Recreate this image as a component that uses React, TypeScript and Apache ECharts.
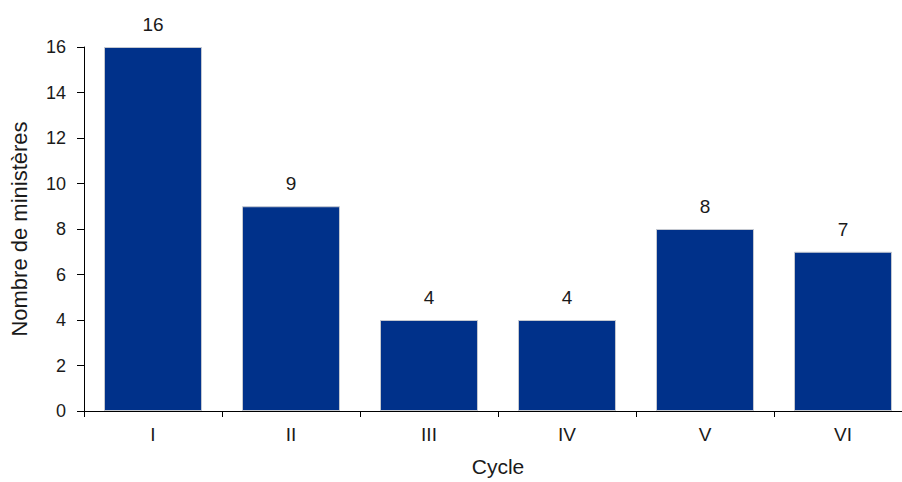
import React, { useEffect, useRef } from "react";
import * as echarts from "echarts";

// Number of ministries per cycle
const cycles = ["I", "II", "III", "IV", "V", "VI"];
const ministries = [16, 9, 4, 4, 8, 7];
const yTicks = { min: 0, max: 16, interval: 2 };

const FONT = '"Liberation Sans", Arial, Helvetica, sans-serif';
const TEXT = "#1a1a1a";

export default function App() {
  const ref = useRef<HTMLDivElement>(null);

  useEffect(() => {
    if (!ref.current) return;
    const chart = echarts.init(ref.current, undefined, { renderer: "svg" });
    chart.setOption({
      animation: false,
      backgroundColor: "#ffffff",
      textStyle: { fontFamily: FONT, color: TEXT },
      // the plot runs slightly past the right edge of the visible frame
      grid: { left: 84, right: 0, top: 47, bottom: 70, containLabel: false },
      xAxis: {
        type: "category",
        data: cycles,
        name: "Cycle",
        nameLocation: "middle",
        nameGap: 45,
        nameTextStyle: { fontFamily: FONT, fontSize: 21, color: TEXT },
        axisLine: { lineStyle: { color: "#000", width: 1 } },
        axisTick: { show: true, length: 6, alignWithLabel: false, lineStyle: { color: "#000" } },
        axisLabel: { fontFamily: FONT, fontSize: 19, color: TEXT, margin: 14 },
        splitLine: { show: false },
      },
      yAxis: {
        type: "value",
        min: yTicks.min,
        max: yTicks.max,
        interval: yTicks.interval,
        name: "Nombre de ministères",
        nameLocation: "middle",
        nameRotate: 90,
        nameGap: 54,
        nameTextStyle: { fontFamily: FONT, fontSize: 22, color: TEXT },
        axisLine: { show: true, lineStyle: { color: "#000", width: 1 } },
        axisTick: { show: true, length: 7, lineStyle: { color: "#000" } },
        axisLabel: { fontFamily: FONT, fontSize: 18, color: TEXT, margin: 18 },
        splitLine: { show: false },
      },
      series: [
        {
          type: "bar",
          data: ministries,
          barWidth: "71%",
          itemStyle: { color: "#00318a", borderColor: "#c4c8d0", borderWidth: 1 },
          label: {
            show: true,
            position: "top",
            distance: 13,
            fontFamily: FONT,
            fontSize: 19,
            color: TEXT,
          },
        },
      ],
    });
    return () => chart.dispose();
  }, []);

  return (
    <div
      style={{
        position: "fixed",
        left: 0,
        top: 0,
        width: 902,
        height: 482,
        overflow: "hidden",
        background: "#fff",
      }}
    >
      <div ref={ref} style={{ width: 912, height: 482 }} />
    </div>
  );
}
